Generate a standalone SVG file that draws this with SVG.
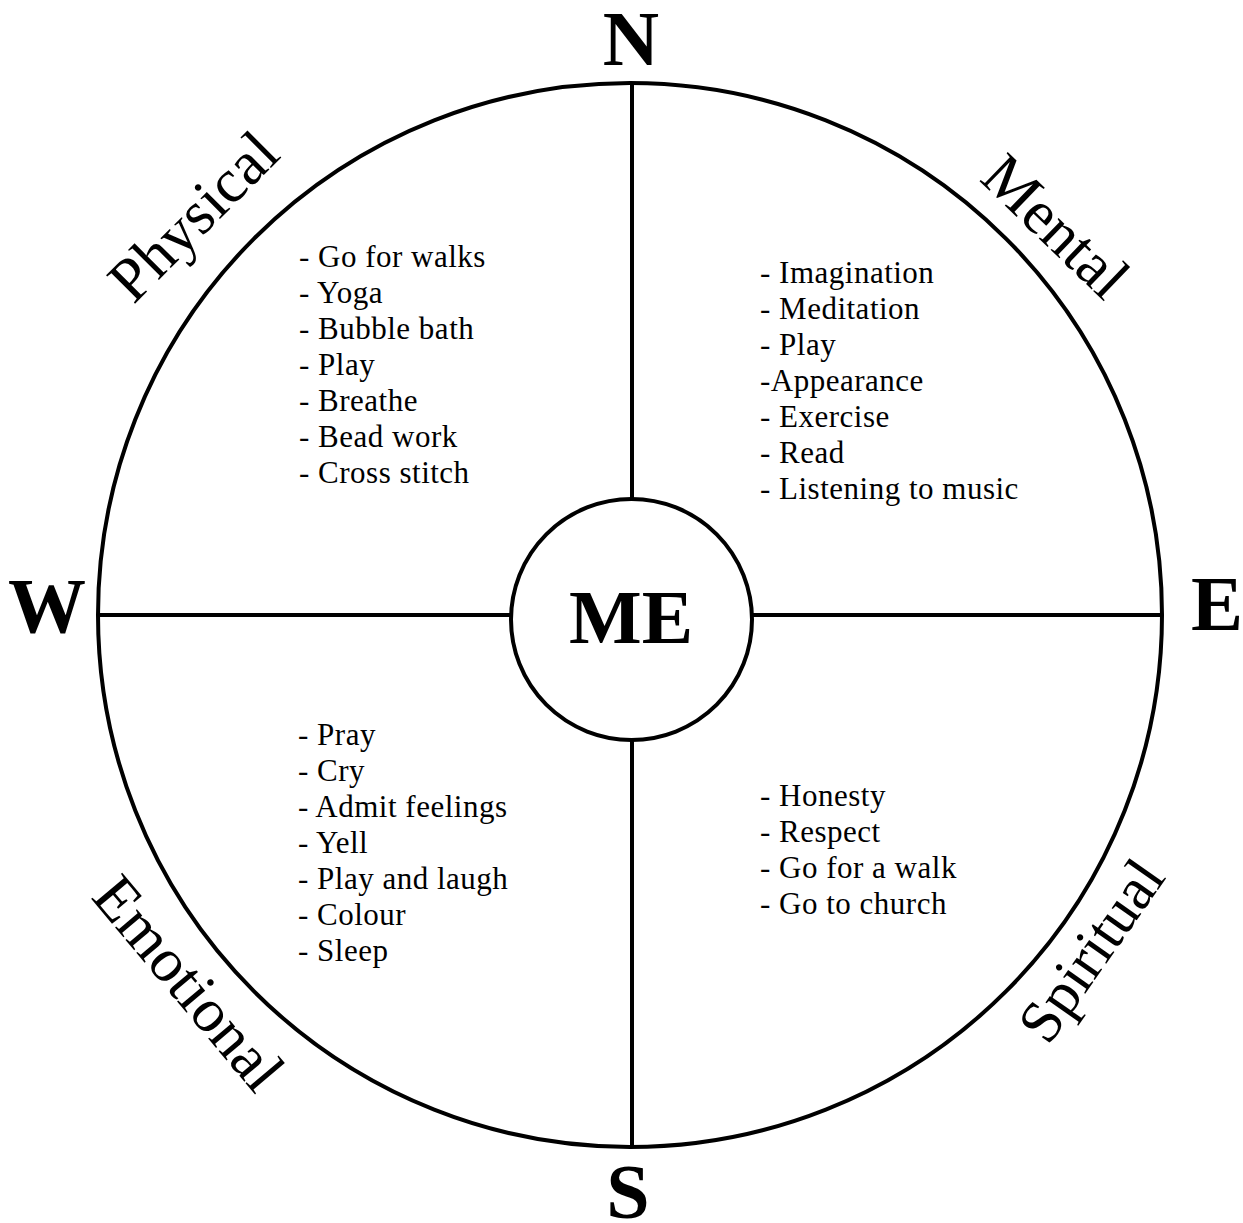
<svg xmlns="http://www.w3.org/2000/svg" width="1243" height="1223" viewBox="0 0 1243 1223">
  <style>
    .ring { fill: none; stroke: #000; stroke-width: 4; }
    .hub { fill: #fff; stroke: #000; stroke-width: 4; }
    .spoke { stroke: #000; stroke-width: 4; fill: none; }
    .dir { font-family: "Liberation Serif", "Times New Roman", serif; font-weight: bold; font-size: 78px; fill: #000; text-anchor: middle; }
    .me { font-family: "Liberation Serif", "Times New Roman", serif; font-weight: bold; font-size: 77px; fill: #000; text-anchor: middle; }
    .quad { font-family: "Liberation Serif", "Times New Roman", serif; font-size: 62px; fill: #000; text-anchor: middle; }
    .item { font-family: "Liberation Serif", "Times New Roman", serif; font-size: 31px; letter-spacing: 0.5px; fill: #000; }
  </style>

  <rect width="1243" height="1223" fill="#fff"/>

  <!-- outer wheel -->
  <g id="wheel">
    <circle class="ring" cx="630" cy="615" r="532"/>
  </g>

  <!-- spokes from hub to rim -->
  <g id="connectors">
    <line class="spoke" x1="632" y1="83" x2="632" y2="500"/>
    <line class="spoke" x1="632" y1="739" x2="632" y2="1147"/>
    <line class="spoke" x1="98" y1="615" x2="512" y2="615"/>
    <line class="spoke" x1="751" y1="615" x2="1162" y2="615"/>
  </g>

  <!-- centre hub -->
  <g id="node-me">
    <circle class="hub" cx="631.5" cy="619.5" r="120.5"/>
    <text class="me" x="631" y="643">ME</text>
  </g>

  <!-- compass points -->
  <g id="node-n"><text class="dir" x="631" y="65">N</text></g>
  <g id="node-w"><text class="dir" x="47" y="632">W</text></g>
  <g id="node-e"><text class="dir" x="1217" y="630">E</text></g>
  <g id="node-s"><text class="dir" x="628" y="1218">S</text></g>

  <!-- quadrant titles and their lists -->
  <g id="node-physical">
    <text class="quad" transform="translate(198 221) rotate(-45)" x="0" y="14">Physical</text>
    <text class="item" x="299" y="267">
      <tspan x="299" y="267">- Go for walks</tspan>
      <tspan x="299" y="303">- Yoga</tspan>
      <tspan x="299" y="339">- Bubble bath</tspan>
      <tspan x="299" y="375">- Play</tspan>
      <tspan x="299" y="411">- Breathe</tspan>
      <tspan x="299" y="447">- Bead work</tspan>
      <tspan x="299" y="483">- Cross stitch</tspan>
    </text>
  </g>

  <g id="node-mental">
    <text class="quad" transform="translate(1056 226) rotate(44)" x="0" y="21">Mental</text>
    <text class="item" x="760" y="283">
      <tspan x="760" y="283">- Imagination</tspan>
      <tspan x="760" y="319">- Meditation</tspan>
      <tspan x="760" y="355">- Play</tspan>
      <tspan x="760" y="391">-Appearance</tspan>
      <tspan x="760" y="427">- Exercise</tspan>
      <tspan x="760" y="463">- Read</tspan>
      <tspan x="760" y="499">- Listening to music</tspan>
    </text>
  </g>

  <g id="node-emotional">
    <text class="quad" transform="translate(189 983) rotate(50)" x="0" y="21">Emotional</text>
    <text class="item" x="298" y="745">
      <tspan x="298" y="745">- Pray</tspan>
      <tspan x="298" y="781">- Cry</tspan>
      <tspan x="298" y="817">- Admit feelings</tspan>
      <tspan x="298" y="853">- Yell</tspan>
      <tspan x="298" y="889">- Play and laugh</tspan>
      <tspan x="298" y="925">- Colour</tspan>
      <tspan x="298" y="961">- Sleep</tspan>
    </text>
  </g>

  <g id="node-spiritual">
    <text class="quad" transform="translate(1096 954) rotate(-55)" x="0" y="14" style="font-size:60px">Spiritual</text>
    <text class="item" x="760" y="806">
      <tspan x="760" y="806">- Honesty</tspan>
      <tspan x="760" y="842">- Respect</tspan>
      <tspan x="760" y="878">- Go for a walk</tspan>
      <tspan x="760" y="914">- Go to church</tspan>
    </text>
  </g>
</svg>
